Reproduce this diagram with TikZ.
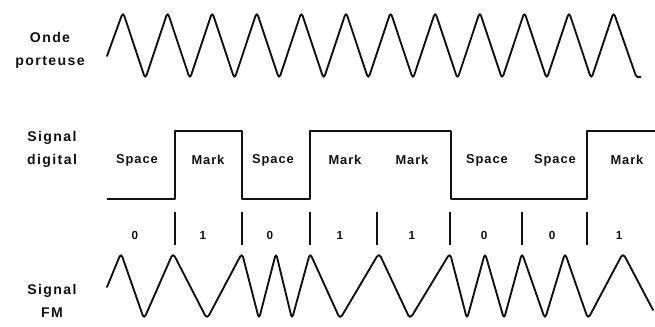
\documentclass[tikz,border=0pt]{standalone}
\usepackage{fontspec}
\setmainfont{Liberation Sans}
\usepackage{tikz}
\usetikzlibrary{positioning}
\definecolor{ink}{HTML}{111111}
\tikzset{
  wave/.style={draw=ink,line width=1.6pt,rounded corners=3.5pt,line join=round,line cap=round},
  digital/.style={draw=ink,line width=2pt,line join=round},
  bittick/.style={draw=ink,line width=1pt},
  rowlabel/.style={font=\bfseries\fontsize{12}{19.5}\selectfont\addfontfeature{LetterSpace=10},align=center,text=ink},
  level/.style={font=\bfseries\fontsize{11}{12}\selectfont\addfontfeature{LetterSpace=7},text=ink},
  bit/.style={font=\bfseries\fontsize{10}{11}\selectfont,text=ink},
}

\begin{document}
\begin{tikzpicture}[x=0.03cm,y=-0.03cm]
  \useasboundingbox (0,0) rectangle (655,326);

  % row titles
  \node[rowlabel] (carrierlbl) at (50,50) {Onde\\porteuse};
  \node[rowlabel] (digitallbl) at (52,149) {Signal\\digital};
  \node[rowlabel] (fmlbl) at (52,301) {Signal\\FM};

  % carrier
  \draw[wave] (107,56)
    \foreach \k in {0,...,10}{ -- (123+44.6*\k,12) -- (145.3+44.6*\k,79) }
    -- (613.6,12) -- (637,79) -- (640,77);

  % bit boundaries
  \foreach \b/\x in {0/107,1/175,2/242,3/310,4/377,5/450,6/522,7/587,8/655}
    \coordinate (b\b) at (\x,212);

  % digital signal
  \draw[digital] (107,199) -- (175,199) -- (175,131) -- (242,131) -- (242,199)
    -- (310,199) -- (310,131) -- (451,131) -- (451,199) -- (587,199)
    -- (587,131) -- (655,131);

  % mark / space labels
  \foreach \x/\t [count=\i] in {137/Space,208/Mark,273/Space,345/Mark,412/Mark,487/Space,555/Space,627/Mark}
    \node[level] (lv\i) at (\x,160) {\t};

  % ticks and bits
  \foreach \b in {1,...,7}
    \draw[bittick] (b\b) -- ++(0,33);
  \foreach \x/\t [count=\i] in {135/0,203/1,270/0,340/1,412/1,484/0,552/0,619/1}
    \node[bit] (bit\i) at (\x,235) {\t};

  % FM signal
  \draw[wave] (107,287) -- (121,253) -- (144,319) -- (173,253) -- (207,319)
    -- (242,253) -- (259,319) -- (276,253) -- (292,319) -- (310,253)
    -- (340,319) -- (379,253) -- (410,319) -- (450,253) -- (467,319)
    -- (485,253) -- (504,319) -- (522,253) -- (545,319) -- (565,253)
    -- (588,319) -- (623,253) -- (653,310);
\end{tikzpicture}
\end{document}
